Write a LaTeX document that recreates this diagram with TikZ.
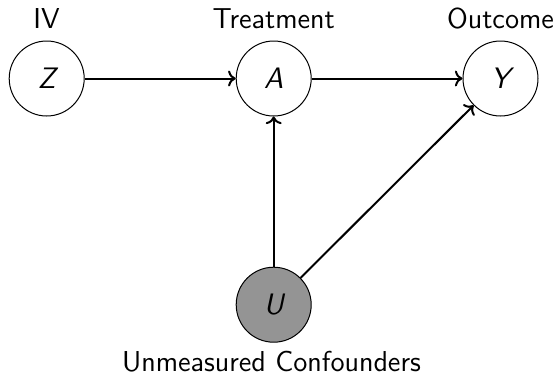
\documentclass[tikz,border=0pt]{standalone}
\usetikzlibrary{arrows.meta}
\begin{document}
\begin{tikzpicture}[x=0.5pt,y=-0.5pt,
  font=\sffamily\fontsize{14.4}{16}\selectfont,
  var/.style={circle,draw,line width=0.5pt,minimum size=37.5pt,inner sep=0pt,font=\sffamily\itshape\fontsize{14.8}{16}\selectfont},
  lat/.style={var,fill=black!42},
  edge/.style={->,line width=1pt}]
\useasboundingbox (0,0) rectangle (558,377);
\node[var] (Z) at (46.7,78.5) {Z};
\node[var] (A) at (273.7,78.5) {A};
\node[var] (Y) at (500.5,78.5) {Y};
\node[lat] (U) at (273.7,304.7) {U};
\node (lz) at (46.5,18.5) {IV};
\node (la) at (273.7,18.5) {Treatment};
\node (ly) at (500.5,18.5) {Outcome};
\node (lu) at (271.5,362) {Unmeasured Confounders};
\draw[edge] (Z) -- (A);
\draw[edge] (A) -- (Y);
\draw[edge] (U) -- (A);
\draw[edge] (U) -- (Y);
\end{tikzpicture}
\end{document}
